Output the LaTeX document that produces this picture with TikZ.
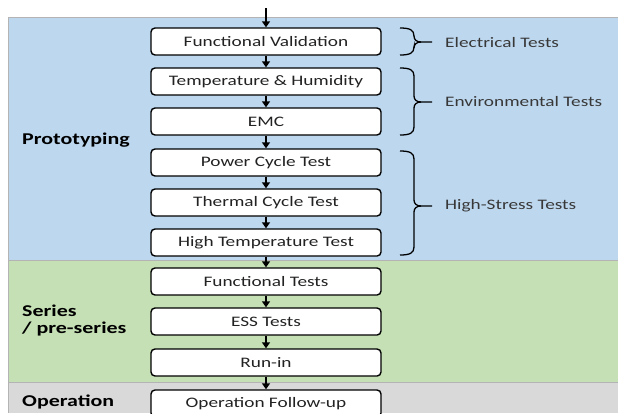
\documentclass[tikz,border=0pt]{standalone}
\usepackage{fontspec}
\setmainfont{Carlito}[FakeStretch=1.33]
\usetikzlibrary{arrows.meta}
\definecolor{protoblue}{HTML}{BDD7EE}
\definecolor{seriesgreen}{HTML}{C5E0B4}
\definecolor{opgray}{HTML}{D9D9D9}
\definecolor{bandline}{HTML}{B4B4B4}
\definecolor{txt}{HTML}{222222}
\definecolor{lbl}{HTML}{383838}
\newcommand\grpbrace[3]{%
  \draw[bracepath] (400,#1) .. controls (410,#1) and (414,#1+2) .. (414,#1+8) -- (414,#3-6)
     .. controls (414,#3-2) and (417,#3) .. (421,#3) -- (432,#3);
  \draw[bracepath] (421,#3) .. controls (417,#3) and (414,#3+2) .. (414,#3+6) -- (414,#2-8)
     .. controls (414,#2-2) and (410,#2) .. (400,#2);}
\begin{document}
\begin{tikzpicture}[x=1pt,y=-1pt,
  band/.style={draw=bandline,line width=1pt},
  stepbox/.style={draw=black,line width=1.4pt,rounded corners=4pt,fill=white,
    minimum width=230pt,minimum height=27pt,inner sep=0pt,
    font=\fontsize{14.5}{17}\selectfont,text=txt},
  flow/.style={-{Triangle[length=6pt,width=8pt]},line width=2.2pt},
  phase/.style={font=\fontsize{16.5}{17}\selectfont\bfseries,text=black,anchor=west,align=left,inner sep=0pt},
  grouplbl/.style={font=\fontsize{14.5}{17}\selectfont,text=lbl,anchor=west,inner sep=0pt},
  bracepath/.style={line width=1.3pt}]
\useasboundingbox (0,0) rectangle (618,413);
\clip (0,0) rectangle (618,413);
% bands
\fill[protoblue] (8,17) rectangle (618,260);
\fill[seriesgreen] (8,260) rectangle (618,382);
\fill[opgray] (8,382) rectangle (618,413);
\draw[band] (618,17) -- (8,17) -- (8,413);
\draw[band] (8,260) -- (618,260);
\draw[band] (8,382) -- (618,382);
% phase labels
\node[phase] (proto) at (22,140) {Prototyping};
\node[phase] (series) at (22,321) {Series\\/ pre-series};
\node[phase] (oper) at (22,402) {Operation};
% steps
\node[stepbox] (fv)  at (266,41.5)  {Functional Validation};
\node[stepbox] (th)  at (266,81.5)  {Temperature \& Humidity};
\node[stepbox] (emc) at (266,121.5) {EMC};
\node[stepbox] (pc)  at (266,162.5) {Power Cycle Test};
\node[stepbox] (tc)  at (266,202.5) {Thermal Cycle Test};
\node[stepbox] (ht)  at (266,242.5) {High Temperature Test};
\node[stepbox] (ft)  at (266,281.5) {Functional Tests};
\node[stepbox] (ess) at (266,321.5) {ESS Tests};
\node[stepbox] (run) at (266,362.5) {Run-in};
\node[stepbox] (ofu) at (266,403.5) {Operation Follow-up};
% connectors
\coordinate (start) at (266,8);
\draw[flow] (start) -- (fv);
\draw[flow] (fv) -- (th);
\draw[flow] (th) -- (emc);
\draw[flow] (emc) -- (pc);
\draw[flow] (pc) -- (tc);
\draw[flow] (tc) -- (ht);
\draw[flow] (ht) -- (ft);
\draw[flow] (ft) -- (ess);
\draw[flow] (ess) -- (run);
\draw[flow] (run) -- (ofu);
% braces and group labels
\grpbrace{28}{55}{42}
\grpbrace{68}{135}{102}
\grpbrace{151}{255}{206}
\node[grouplbl] (elec) at (445,43) {Electrical Tests};
\node[grouplbl] (env) at (445,102) {Environmental Tests};
\node[grouplbl] (hs) at (445,206) {High-Stress Tests};
\end{tikzpicture}
\end{document}
